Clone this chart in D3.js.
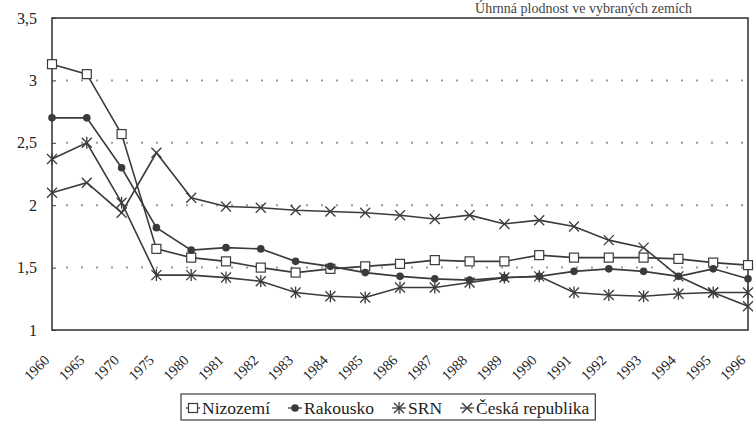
<!DOCTYPE html>
<html>
<head>
<meta charset="utf-8">
<script src="https://cdn.jsdelivr.net/npm/d3@7"></script>
<style>
  html, body { margin: 0; padding: 0; background: #fff; }
  svg { display: block; }
  svg text { font-family: 'Liberation Serif', 'DejaVu Serif', serif; }
</style>
</head>
<body>
<div id="chart"></div>
<script>
const years = ['1960', '1965', '1970', '1975', '1980', '1981', '1982', '1983', '1984', '1985', '1986',
  '1987', '1988', '1989', '1990', '1991', '1992', '1993', '1994', '1995', '1996'];
const nizozemi = [3.13, 3.05, 2.57, 1.65, 1.58, 1.55, 1.50, 1.46, 1.49, 1.51, 1.53,
  1.56, 1.55, 1.55, 1.60, 1.58, 1.58, 1.58, 1.57, 1.54, 1.52];
const rakousko = [2.70, 2.70, 2.30, 1.82, 1.64, 1.66, 1.65, 1.55, 1.51, 1.46, 1.43,
  1.41, 1.40, 1.42, 1.43, 1.47, 1.49, 1.47, 1.43, 1.49, 1.41];
const srn = [2.37, 2.50, 2.02, 1.44, 1.44, 1.42, 1.39, 1.30, 1.27, 1.26, 1.34,
  1.34, 1.38, 1.42, 1.43, 1.30, 1.28, 1.27, 1.29, 1.30, 1.30];
const cesko = [2.10, 2.18, 1.94, 2.42, 2.06, 1.99, 1.98, 1.96, 1.95, 1.94, 1.92,
  1.89, 1.92, 1.85, 1.88, 1.83, 1.72, 1.66, 1.43, 1.30, 1.19];
const yTicks = [1, 1.5, 2, 2.5, 3, 3.5];
const gridTicks = [1.5, 2, 2.5, 3];
const seriesNames = ['Nizozemí', 'Rakousko', 'SRN', 'Česká republika'];
const seriesMarkers = ['square', 'circle', 'star', 'cross'];
const titleText = 'Úhrnná plodnost ve vybraných zemích';

const W = 755, H = 421;
const margin = { top: 18, right: 7, bottom: 91, left: 52 };
const ink = '#3b3b3b';

const svg = d3.select('#chart').append('svg').attr('width', W).attr('height', H);

const x = d3.scalePoint().domain(years).range([margin.left, W - margin.right]);
const y = d3.scaleLinear().domain([1, 3.5]).range([H - margin.bottom, margin.top]);

// title (the scan cuts it at the top edge, keep it just readable here)
svg.append('text')
  .attr('x', 692).attr('y', 13)
  .attr('text-anchor', 'end')
  .attr('font-size', 14)
  .attr('fill', '#444')
  .text(titleText);

// dotted grid
svg.append('g').selectAll('line').data(gridTicks).enter().append('line')
  .attr('x1', margin.left + 14).attr('x2', W - margin.right - 4)
  .attr('y1', (d) => y(d)).attr('y2', (d) => y(d))
  .attr('stroke', '#9a9a9a').attr('stroke-width', 2)
  .attr('stroke-dasharray', '2,13');

// frame
svg.append('rect')
  .attr('x', margin.left).attr('y', margin.top)
  .attr('width', W - margin.left - margin.right)
  .attr('height', H - margin.top - margin.bottom)
  .attr('fill', 'none').attr('stroke', ink).attr('stroke-width', 1.6);

// Y axis
const yAxis = svg.append('g')
  .attr('transform', `translate(${margin.left},0)`)
  .call(d3.axisLeft(y).tickValues(yTicks).tickSizeInner(-4).tickSizeOuter(0).tickPadding(15)
    .tickFormat((d) => String(d).replace('.', ',')))
  .attr('font-family', null).attr('font-size', null);
yAxis.select('.domain').remove();
yAxis.selectAll('line').attr('stroke', ink);
yAxis.selectAll('text').attr('font-size', 16).attr('fill', '#222');

// X axis with slanted labels
const xAxis = svg.append('g')
  .attr('transform', `translate(0,${H - margin.bottom})`)
  .call(d3.axisBottom(x).tickSize(0))
  .attr('font-family', null).attr('font-size', null);
xAxis.select('.domain').remove();
xAxis.selectAll('text')
  .attr('x', 0).attr('y', 0).attr('dy', 0)
  .attr('transform', 'translate(-2,31) rotate(-45)')
  .attr('text-anchor', 'end')
  .attr('font-size', 14.5)
  .attr('fill', '#222');

function drawMarker(g, type, cx, cy) {
  if (type === 'square') {
    g.append('rect').attr('x', cx - 4.5).attr('y', cy - 4.5).attr('width', 9).attr('height', 9)
      .attr('fill', '#fff').attr('stroke', ink).attr('stroke-width', 1.2);
  } else if (type === 'circle') {
    g.append('circle').attr('cx', cx).attr('cy', cy).attr('r', 3.8).attr('fill', ink);
  } else {
    const s = 5;
    const segs = [[-s, -s, s, s], [-s, s, s, -s]];
    if (type === 'star') segs.push([0, -s - 1, 0, s + 1]);
    segs.forEach((p) => {
      g.append('line')
        .attr('x1', cx + p[0]).attr('y1', cy + p[1]).attr('x2', cx + p[2]).attr('y2', cy + p[3])
        .attr('stroke', ink).attr('stroke-width', 1.3);
    });
  }
}

const line = d3.line().x((d) => x(d[0])).y((d) => y(d[1]));

[nizozemi, rakousko, srn, cesko].forEach((values, i) => {
  const pts = years.map((yr, j) => [yr, values[j]]);
  const g = svg.append('g');
  g.append('path').datum(pts)
    .attr('fill', 'none').attr('stroke', ink).attr('stroke-width', 1.6)
    .attr('d', line);
  pts.forEach((p) => drawMarker(g, seriesMarkers[i], x(p[0]), y(p[1])));
});

// legend
const legend = svg.append('g');
const legendY = 408;
let lx = 186;
seriesNames.forEach((name, i) => {
  legend.append('line')
    .attr('x1', lx).attr('x2', lx + 14).attr('y1', legendY).attr('y2', legendY)
    .attr('stroke', ink).attr('stroke-width', 1.3);
  drawMarker(legend, seriesMarkers[i], lx + 7, legendY);
  const t = legend.append('text')
    .attr('x', lx + 16).attr('y', legendY).attr('dy', '0.34em')
    .attr('font-size', 17.5).attr('fill', '#222')
    .text(name);
  lx += 16 + t.node().getComputedTextLength() + 18;
});
legend.insert('rect', ':first-child')
  .attr('x', 181).attr('y', 394)
  .attr('width', lx - 18 + 6 - 181).attr('height', 26)
  .attr('fill', '#fff').attr('stroke', ink).attr('stroke-width', 1.2);
</script>
</body>
</html>
